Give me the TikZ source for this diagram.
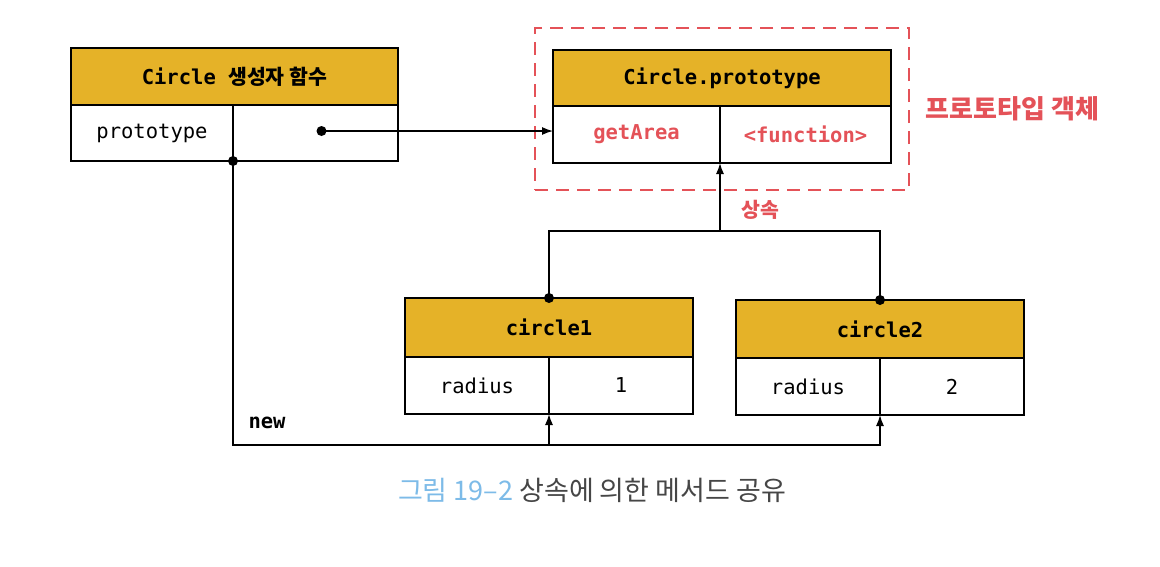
\documentclass[tikz,border=0pt]{standalone}
\usepackage{fontspec}
\setmonofont{DejaVu Sans Mono}
\newfontfamily\krfont{Noto Sans CJK KR}
\usetikzlibrary{positioning,fit,arrows.meta}

\definecolor{hdrgold}{RGB}{229,178,40}
\definecolor{protored}{RGB}{228,82,88}
\definecolor{capblue}{RGB}{125,187,232}
\definecolor{capgray}{RGB}{70,70,70}

\tikzset{
  hdr/.style={draw, line width=1.5pt, fill=hdrgold, outer sep=0pt, inner sep=0pt,
    minimum height=57pt, font=\fontsize{20.5}{24}\selectfont\ttfamily\bfseries},
  cell/.style={draw, line width=1.5pt, fill=white, outer sep=0pt, inner sep=0pt,
    minimum height=57pt, font=\fontsize{20.5}{24}\selectfont\ttfamily},
  link/.style={line width=1.3pt},
  arr/.style={link, -{Latex[length=11pt,width=8pt]}},
  dot/.style={circle, fill=black, inner sep=0pt, minimum size=10pt},
  redlbl/.style={text=protored, font=\krfont\bfseries}
}

\begin{document}
\begin{tikzpicture}[x=1pt,y=-1pt]
  \useasboundingbox[fill=white] (0,0) rectangle (1160,566);

  % Circle 생성자 함수
  \node[hdr, minimum width=327pt, anchor=north west] (ctorHead) at (71,48) {Circle {\krfont 생성자 함수}};
  \node[cell, minimum width=162pt, minimum height=56pt, anchor=north west] (ctorKey) at (ctorHead.south west) {prototype};
  \node[cell, minimum width=165pt, minimum height=56pt, anchor=north west] (ctorVal) at (ctorKey.north east) {};

  % Circle.prototype
  \node[hdr, minimum width=338pt, minimum height=56pt, anchor=north west] (protoHead) at (553,50) {Circle.prototype};
  \node[cell, minimum width=167pt, anchor=north west, text=protored, font=\fontsize{20.5}{24}\selectfont\ttfamily\bfseries] (protoKey) at (protoHead.south west) {getArea};
  \node[cell, minimum width=171pt, anchor=north west, text=protored, font=\fontsize{20.5}{24}\selectfont\ttfamily\bfseries] (protoVal) at (protoKey.north east) {<function>};
  \node[draw=protored, line width=2.5pt, dash pattern=on 13pt off 8pt, inner xsep=18pt, inner ysep=24.5pt,
    yshift=-2.5pt, fit=(protoHead)(protoVal)] (protoGroup) {};
  \node[redlbl, font=\fontsize{26}{30}\selectfont\krfont\bfseries, right=12pt of protoGroup] (protoLbl) {프로토타입\ 객체};

  % circle1, circle2
  \node[hdr, minimum width=288pt, minimum height=59pt, anchor=north west] (circle1Head) at (405,298) {circle1};
  \node[cell, minimum width=144pt, anchor=north west] (circle1Key) at (circle1Head.south west) {radius};
  \node[cell, minimum width=144pt, anchor=north west] (circle1Val) at (circle1Key.north east) {1};
  \node[hdr, minimum width=288pt, minimum height=58pt, anchor=north west] (circle2Head) at (736,300) {circle2};
  \node[cell, minimum width=144pt, anchor=north west] (circle2Key) at (circle2Head.south west) {radius};
  \node[cell, minimum width=144pt, anchor=north west] (circle2Val) at (circle2Key.north east) {2};

  % prototype 참조
  \coordinate (ptrDot) at ([xshift=6pt, yshift=2pt]ctorVal.center);
  \draw[arr] (ptrDot) -- (ptrDot -| protoKey.west);
  \node[dot] at (ptrDot) {};

  % 상속
  \coordinate (inhJoin) at (protoKey.south east |- 0,231);
  \draw[link] (circle1Head.north) -- (circle1Head.north |- inhJoin) -| (circle2Head.north);
  \draw[arr] (inhJoin) -- (protoKey.south east);
  \node[dot] at (circle1Head.north) {};
  \node[dot] at (circle2Head.north) {};
  \node[redlbl, font=\fontsize{20.5}{24}\selectfont\krfont\bfseries, anchor=west] (inhLbl) at (738,210) {상속};

  % new
  \coordinate (newCorner) at (ctorKey.south east |- 0,445);
  \draw[arr] (ctorKey.south east) -- (newCorner) -| (circle2Key.south east);
  \draw[arr] (newCorner -| circle1Key.south east) -- (circle1Key.south east);
  \node[dot] at (ctorKey.south east) {};
  \node[anchor=west, font=\fontsize{20.5}{24}\selectfont\ttfamily\bfseries] (newLbl) at (245,423) {new};

  % caption
  \node[text=capgray, font=\fontsize{27}{30}\selectfont\krfont] (caption) at (592,490)
    {{\color{capblue}그림 19–2} 상속에 의한 메서드 공유};
\end{tikzpicture}
\end{document}
